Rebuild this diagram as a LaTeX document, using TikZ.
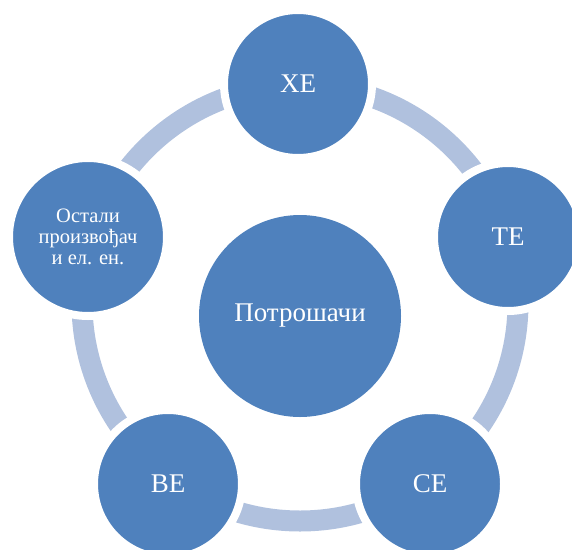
\documentclass[tikz,border=0pt]{standalone}
\usepackage{fontspec}
\setmainfont{Liberation Serif}
\definecolor{nodeblue}{HTML}{4F81BD}
\definecolor{arcblue}{HTML}{B0C1DE}
\begin{document}
\begin{tikzpicture}[x=1pt,y=-1pt,
  bub/.style={circle, fill=nodeblue, draw=white, line width=8pt, inner sep=0pt,
    text=white, align=center, minimum size=148pt, font=\fontsize{27}{30}\selectfont},
  ring/.style={draw=arcblue, line width=21pt}]
\useasboundingbox (0,0) rectangle (572,549);
\coordinate (rc) at (300,303);
\draw[ring] (rc) circle [radius=218pt];
\node[bub] (he) at (298,84) {ХЕ};
\node[bub] (te) at (508,237) {ТЕ};
\node[bub] (se) at (430,484) {СЕ};
\node[bub] (ve) at (168,484) {ВЕ};
\node[bub, minimum size=158pt, font=\fontsize{20.5}{21}\selectfont] (os) at (88,237) {Остали\\произвођач\\и ел. ен.};
\node[bub, draw=none, minimum size=202pt] (po) at (300,316) {Потрошачи};
\end{tikzpicture}
\end{document}
